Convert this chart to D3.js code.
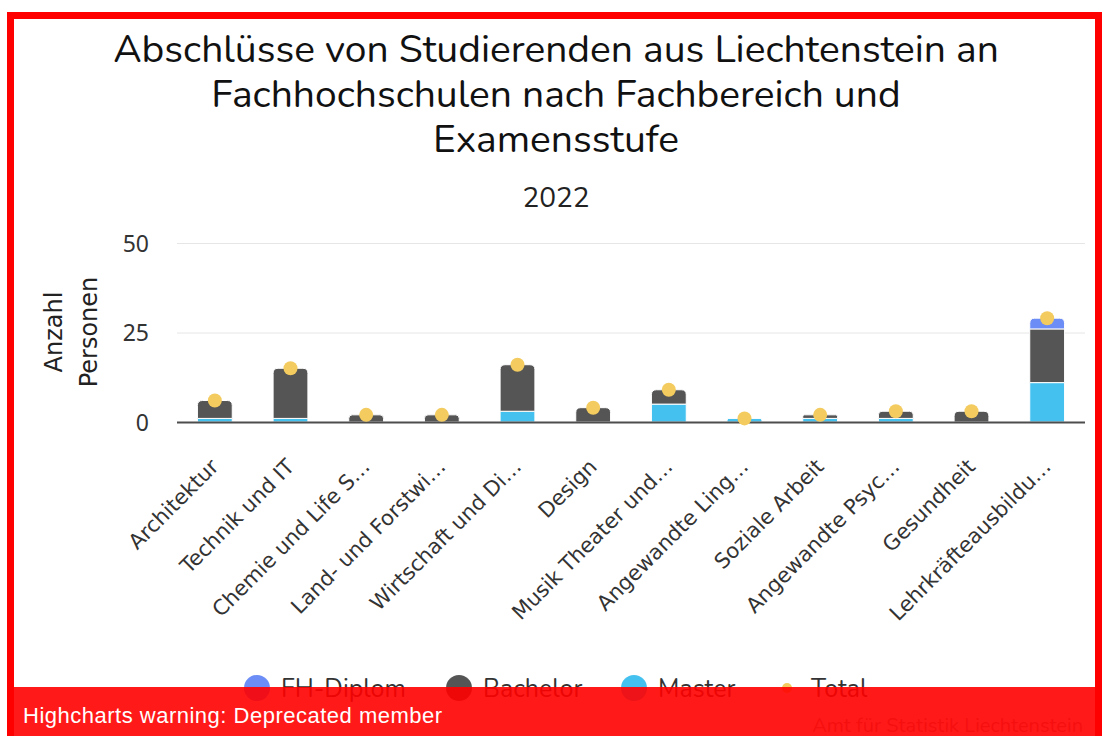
<!DOCTYPE html>
<html lang="de">
<head>
<meta charset="UTF-8">
<title>Abschlüsse Fachhochschulen</title>
<script src="https://cdn.jsdelivr.net/npm/d3@7/dist/d3.min.js"></script>
<style>
  body { margin: 0; background: #fff; }
  svg { display: block; }
</style>
</head>
<body>
<script>
// data
const categories = ['Architektur', 'Technik und IT', 'Chemie und Life S…', 'Land- und Forstwi…',
  'Wirtschaft und Di…', 'Design', 'Musik Theater und…', 'Angewandte Ling…', 'Soziale Arbeit',
  'Angewandte Psyc…', 'Gesundheit', 'Lehrkräfteausbildu…'];
const master   = [1, 1, 0, 0, 3, 0, 5, 1, 1, 1, 0, 11];
const bachelor = [5, 14, 2, 2, 13, 4, 4, 0, 1, 2, 3, 15];
const fhDiplom = [0, 0, 0, 0, 0, 0, 0, 0, 0, 0, 0, 3];
const total    = [6, 15, 2, 2, 16, 4, 9, 1, 2, 3, 3, 29];
const yTicks = [0, 25, 50];

const W = 1102, H = 736;
const plot = {left: 177, right: 1085, top: 243, bottom: 422};
const colors = {fh: '#6b8df5', ba: '#555555', ma: '#45c1ef', tot: '#f3cb5f'};

const svg = d3.select('body').append('svg')
  .attr('width', W).attr('height', H);

const x = d3.scaleBand()
  .domain(d3.range(categories.length))
  .range([plot.left, plot.right])
  .paddingInner(0.54)
  .paddingOuter(0.27);

const y = d3.scaleLinear()
  .domain([0, 50])
  .range([plot.bottom, plot.top]);

// title + subtitle (one text per line)
const titleLines = ['Abschlüsse von Studierenden aus Liechtenstein an',
  'Fachhochschulen nach Fachbereich und', 'Examensstufe'];
svg.append('g').selectAll('text')
  .data(titleLines).join('text')
  .attr('x', 556).attr('y', (d, i) => 62 + i * 45)
  .attr('text-anchor', 'middle')
  .attr('font-family', 'Nunito, Lato, sans-serif')
  .attr('font-size', 39).attr('fill', '#111')
  .text(d => d);

svg.append('text')
  .attr('x', 556).attr('y', 207)
  .attr('text-anchor', 'middle')
  .attr('font-family', 'Nunito, Lato, sans-serif')
  .attr('font-size', 28).attr('fill', '#222')
  .text('2022');

// grid + y labels
const yAxis = d3.axisLeft(y).tickValues(yTicks).tickSize(-(plot.right - plot.left)).tickPadding(28);
const gy = svg.append('g').attr('transform', `translate(${plot.left},0)`).call(yAxis);
gy.select('.domain').remove();
gy.selectAll('.tick line').attr('stroke', '#e6e6e6');
gy.selectAll('.tick text')
  .attr('font-family', '"Noto Sans", "Open Sans", sans-serif')
  .attr('font-size', 23).attr('fill', '#333').attr('dy', '0.35em');

svg.append('text')
  .attr('transform', 'translate(62,332) rotate(-90)')
  .attr('text-anchor', 'middle')
  .attr('font-family', '"DejaVu Sans", sans-serif')
  .attr('font-size', 24).attr('fill', '#222')
  .selectAll('tspan').data(['Anzahl', 'Personen']).join('tspan')
  .attr('x', 0).attr('dy', (d, i) => i ? 35 : 0)
  .text(d => d);

// stacked bars: master at bottom, then bachelor, then FH-Diplom
const keys = ['ma', 'ba', 'fh'];
const rows = categories.map((c, i) => ({i, ma: master[i], ba: bachelor[i], fh: fhDiplom[i]}));
const stack = d3.stack().keys(keys)(rows);
const topKey = rows.map(r => r.fh ? 'fh' : (r.ba ? 'ba' : 'ma'));
const bw = x.bandwidth(), rad = 5;

function segPath(x0, y0, y1, rounded) {
  const r = Math.min(rad, (y0 - y1) / 2, bw / 2);
  if (!rounded || r <= 0) return `M${x0},${y0}V${y1}H${x0 + bw}V${y0}Z`;
  return `M${x0},${y0}V${y1 + r}Q${x0},${y1} ${x0 + r},${y1}H${x0 + bw - r}` +
    `Q${x0 + bw},${y1} ${x0 + bw},${y1 + r}V${y0}Z`;
}

stack.forEach(layer => {
  svg.append('g').selectAll('path')
    .data(layer.filter(d => d[1] > d[0]))
    .join('path')
    .attr('d', d => segPath(x(d.data.i), y(d[0]), y(d[1]), topKey[d.data.i] === layer.key))
    .attr('fill', colors[layer.key])
    .attr('stroke', '#fff').attr('stroke-width', 1);
});

// x axis line
svg.append('line')
  .attr('x1', plot.left).attr('x2', plot.right)
  .attr('y1', y(0) + 0.5).attr('y2', y(0) + 0.5)
  .attr('stroke', '#4d4d4d').attr('stroke-width', 2);

// total markers
svg.append('g').selectAll('circle')
  .data(total).join('circle')
  .attr('cx', (d, i) => x(i) + bw / 2)
  .attr('cy', d => y(d))
  .attr('r', 7)
  .attr('fill', colors.tot);

// x labels
svg.append('g').selectAll('text')
  .data(categories).join('text')
  .attr('transform', (d, i) => `translate(${x(i) + bw / 2 + 5},${plot.bottom + 46}) rotate(-45)`)
  .attr('text-anchor', 'end')
  .attr('font-family', '"DejaVu Sans", sans-serif')
  .attr('font-size', 21).attr('fill', '#333')
  .text(d => d);

// legend
const legend = [
  {name: 'FH-Diplom', c: colors.fh, r: 13, x: 257},
  {name: 'Bachelor', c: colors.ba, r: 13, x: 459},
  {name: 'Master', c: colors.ma, r: 13, x: 634},
  {name: 'Total', c: colors.tot, r: 5, x: 787}
];
const lg = svg.append('g').selectAll('g').data(legend).join('g')
  .attr('transform', d => `translate(${d.x},688)`);
lg.append('circle').attr('r', d => d.r).attr('fill', d => d.c);
lg.append('text')
  .attr('x', 24).attr('dy', '0.35em')
  .attr('font-family', 'Nunito, Lato, sans-serif')
  .attr('font-size', 25).attr('fill', '#333')
  .text(d => d.name);

svg.append('text')
  .attr('x', 1083).attr('y', 732)
  .attr('text-anchor', 'end')
  .attr('font-family', 'Nunito, Lato, sans-serif')
  .attr('font-size', 20).attr('fill', '#999')
  .text('Amt für Statistik Liechtenstein');

// red frame + warning bar
svg.append('rect')
  .attr('x', 10.5).attr('y', 15.5).attr('width', 1088).attr('height', 800)
  .attr('fill', 'none').attr('stroke', '#ff0000').attr('stroke-width', 7);
svg.append('rect')
  .attr('x', 7).attr('y', 687).attr('width', 1095).attr('height', 49)
  .attr('fill', 'rgba(255,0,0,0.9)');
svg.append('text')
  .attr('x', 23).attr('y', 723)
  .attr('font-family', '"Liberation Sans", Arial, sans-serif')
  .attr('font-size', 22).attr('letter-spacing', 0.5).attr('fill', '#fff')
  .text('Highcharts warning: Deprecated member');
</script>
</body>
</html>
